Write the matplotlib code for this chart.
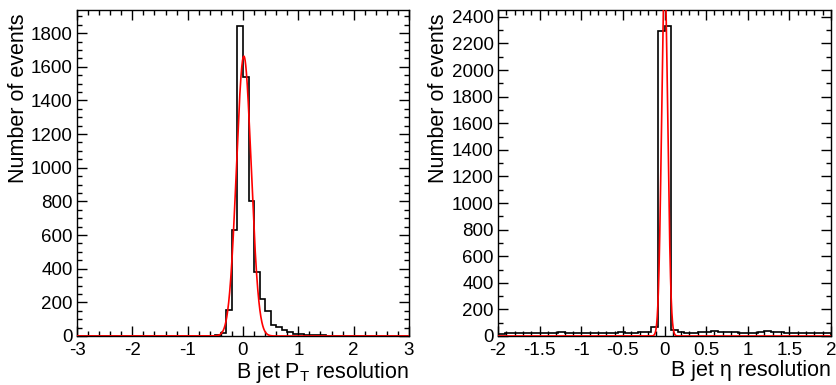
import matplotlib
matplotlib.use("Agg")
import matplotlib.pyplot as plt
import numpy as np
from matplotlib.ticker import MultipleLocator

plt.rcParams['font.family'] = ['Liberation Sans', 'DejaVu Sans']
plt.rcParams['mathtext.fontset'] = 'custom'
plt.rcParams['mathtext.rm'] = 'Liberation Sans'
plt.rcParams['mathtext.it'] = 'Liberation Sans'

# B jet pT resolution histogram: 60 bins in [-3, 3]
pt_range = (-3.0, 3.0)
pt_counts = [0] * 25 + [3, 18, 155, 631, 1845, 1542, 800, 378, 222, 150,
                        65, 52, 36, 23, 14, 10, 7, 5, 4, 3,
                        2, 2, 1, 1] + [0] * 11
pt_fit = dict(amp=1663, mean=0.015, sigma=0.133)

# B jet eta resolution histogram: 50 bins in [-2, 2]
eta_range = (-2.0, 2.0)
eta_counts = [18, 22, 20, 19, 21, 20, 24, 20, 22, 27, 26, 22, 20, 24, 25, 23,
              24, 26, 29, 26, 24, 28,
              32, 70, 2297, 2335, 45,
              28, 26, 25, 30, 33, 36, 30, 28, 27, 25, 26, 24, 30, 35, 33, 27,
              24, 22, 25, 23, 20, 19, 21]
eta_fit = dict(amp=2700, mean=0.002, sigma=0.037)

pt_ticks = [-3, -2, -1, 0, 1, 2, 3]
pt_ticklabels = ['-3', '-2', '-1', '0', '1', '2', '3']
eta_ticks = [-2, -1.5, -1, -0.5, 0, 0.5, 1, 1.5, 2]
eta_ticklabels = ['-2', '-1.5', '-1', '-0.5', '0', '0.5', '1', '1.5', '2']


def gauss(x, amp, mean, sigma):
    return amp * np.exp(-0.5 * ((x - mean) / sigma) ** 2)


def draw_panel(ax, counts, xr, fit, xlabel, ticks, ticklabels, xmin, ymin):
    counts = np.array(counts, dtype=float)
    edges = np.linspace(xr[0], xr[1], len(counts) + 1)
    ax.stairs(counts, edges, color='black', lw=1.2, zorder=2)
    xs = np.linspace(xr[0], xr[1], 3000)
    ax.plot(xs, gauss(xs, **fit), color='red', lw=1.2, zorder=3)
    ax.set_xlim(*xr)
    ax.set_ylim(0, counts.max() * 1.05)
    ax.set_xticks(ticks)
    ax.set_xticklabels(ticklabels)
    ax.xaxis.set_minor_locator(MultipleLocator(xmin))
    ax.yaxis.set_major_locator(MultipleLocator(200))
    ax.yaxis.set_minor_locator(MultipleLocator(ymin))
    ax.tick_params(which='both', direction='in', top=True, right=True,
                   labelsize=13.5, width=1)
    ax.tick_params(which='major', length=7, pad=3)
    ax.tick_params(which='minor', length=3.5)
    ax.tick_params(axis='x', which='major', pad=4.5)
    for s in ax.spines.values():
        s.set_linewidth(1.0)
    ax.set_xlabel(xlabel, fontsize=15.5)
    ax.xaxis.set_label_coords(1.0, -0.073)
    ax.xaxis.label.set_horizontalalignment('right')
    ax.set_ylabel('Number of events', fontsize=15.5)
    ax.yaxis.label.set_horizontalalignment('right')
    ax.yaxis.label.set_verticalalignment('center')


fig = plt.figure(figsize=(8.36, 3.85), dpi=100)
ax1 = fig.add_axes([77 / 836, 49 / 385, 332 / 836, 326 / 385])
ax2 = fig.add_axes([498 / 836, 49 / 385, 333 / 836, 326 / 385])

draw_panel(ax1, pt_counts, pt_range, pt_fit, r'B jet P$_{\mathrm{T}}$ resolution',
           pt_ticks, pt_ticklabels, 0.2, 50)
ax1.yaxis.set_label_coords(-0.175, 0.99)

draw_panel(ax2, eta_counts, eta_range, eta_fit, 'B jet η resolution',
           eta_ticks, eta_ticklabels, 0.1, 100)
ax2.yaxis.set_label_coords(-0.18, 0.99)

fig.savefig('out.png', dpi=100)
